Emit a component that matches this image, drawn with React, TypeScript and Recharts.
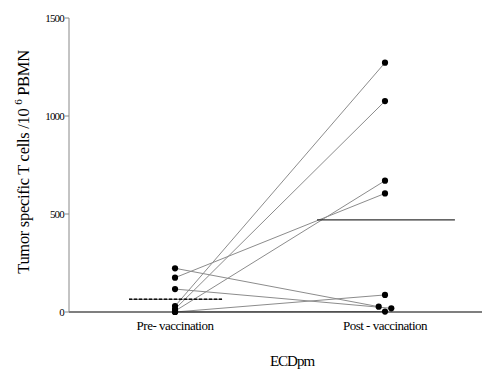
import { ComposedChart, Line, Scatter, XAxis, YAxis, ReferenceLine, Label } from "recharts";

const groups = ["Pre- vaccination", "Post - vaccination"];
const preValues = [223, 175, 117, 30, 15, 5, 0, 0];
const postValues = [27, 605, 19, 1272, 1076, 670, 87, 2];
// small horizontal spread so overlapping post points stay visible
const postJitter = [-0.03, 0, 0.03, 0, 0, 0, 0, 0];
const groupMeans = [65, 470];
const yTicks = [0, 500, 1000, 1500];

const serif = { fontFamily: "'Liberation Serif', 'Times New Roman', serif" };

const pairs = preValues.map((pre, i) => [
  { x: 0, y: pre },
  { x: 1 + postJitter[i], y: postValues[i] },
]);
const allPoints = pairs.flat();

const YTitle = () => (
  <text
    transform="translate(29,162) rotate(-90)"
    textAnchor="middle"
    style={{ ...serif, fontSize: 16.5, letterSpacing: -0.3 }}
    fill="#000"
  >
    Tumor specific T cells /10 <tspan dy={-7} style={{ fontSize: 11 }}>6</tspan>
    <tspan dy={7}> PBMN</tspan>
  </text>
);

const XTick = (p: any) => (
  <text
    x={p.x}
    y={p.y}
    dy="0.75em"
    textAnchor="middle"
    style={{ ...serif, fontSize: 13, letterSpacing: -0.5 }}
    fill="#000"
  >
    {groups[p.payload.value]}
  </text>
);

const YTick = (p: any) => (
  <text
    x={p.x}
    y={p.y}
    dy="0.35em"
    textAnchor="end"
    style={{ ...serif, fontSize: 11, letterSpacing: -0.8 }}
    fill="#000"
  >
    {p.payload.value}
  </text>
);

export default function App() {
  return (
    <div style={{ position: "absolute", left: 0, top: 0, background: "#fff", ...serif }}>
      <ComposedChart
        width={482}
        height={369}
        margin={{ top: 18, right: 0, bottom: 0, left: 0 }}
      >
        <XAxis
          dataKey="x"
          type="number"
          domain={[-0.505, 1.462]}
          ticks={[0, 1]}
          allowDataOverflow
          tickLine={false}
          tickSize={4}
          tickMargin={4}
          height={57}
          stroke="#000"
          strokeWidth={1.2}
          tick={XTick}
        >
          <Label
            content={() => (
              <text
                x={292}
                y={366}
                textAnchor="middle"
                style={{ ...serif, fontSize: 15, letterSpacing: -1 }}
                fill="#000"
              >
                ECDpm
              </text>
            )}
          />
        </XAxis>
        <YAxis
          type="number"
          domain={[0, 1500]}
          ticks={yTicks}
          width={69}
          tickSize={4}
          tickMargin={1}
          stroke="#888"
          tick={YTick}
          tickLine={{ stroke: "#888" }}
          axisLine={{ stroke: "#888" }}
        >
          <Label content={() => <YTitle />} />
        </YAxis>
        {pairs.map((d, i) => (
          <Line
            key={i}
            data={d}
            dataKey="y"
            type="linear"
            stroke="#8c8c8c"
            strokeWidth={1}
            dot={false}
            activeDot={false}
            isAnimationActive={false}
          />
        ))}
        <ReferenceLine
          segment={[
            { x: -0.219, y: groupMeans[0] },
            { x: 0.224, y: groupMeans[0] },
          ]}
          stroke="#555"
          strokeWidth={1.2}
        />
        <ReferenceLine
          segment={[
            { x: -0.219, y: groupMeans[0] },
            { x: 0.224, y: groupMeans[0] },
          ]}
          stroke="#111"
          strokeWidth={1.4}
          strokeDasharray="3 2"
        />
        <ReferenceLine
          segment={[
            { x: 0.676, y: groupMeans[1] },
            { x: 1.333, y: groupMeans[1] },
          ]}
          stroke="#333"
          strokeWidth={1.2}
        />
        <Scatter
          data={allPoints}
          dataKey="y"
          fill="#000"
          isAnimationActive={false}
          shape={(p: any) => <circle cx={p.cx} cy={p.cy} r={3.1} fill="#000" />}
        />
      </ComposedChart>
    </div>
  );
}
